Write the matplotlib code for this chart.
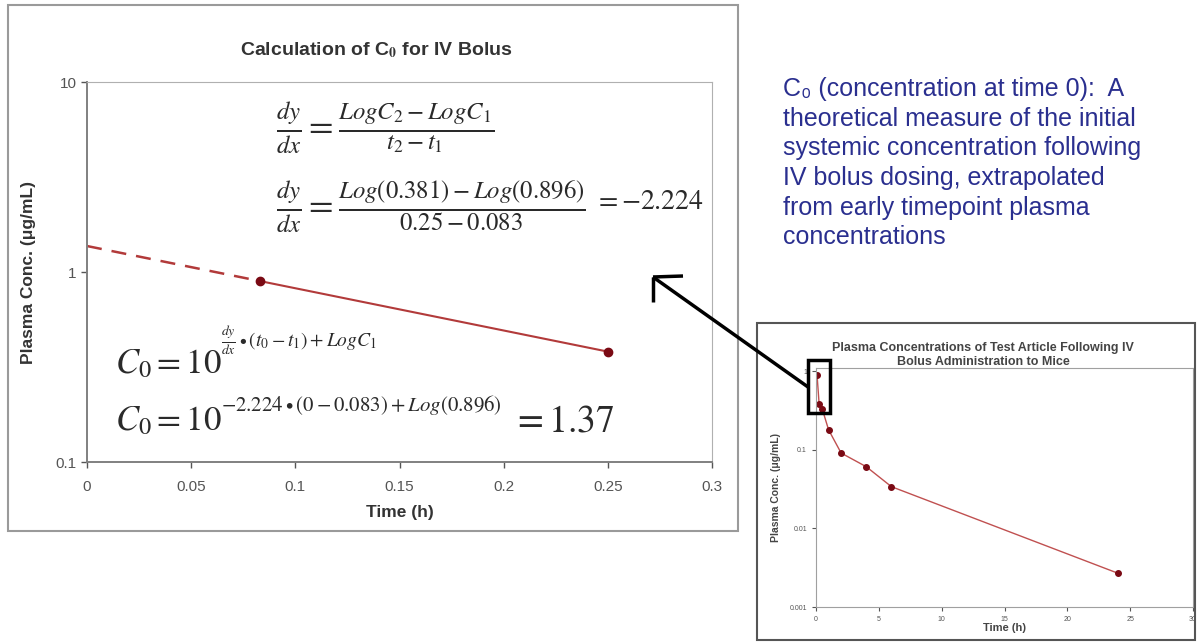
import numpy as np
import matplotlib
matplotlib.use('Agg')
import matplotlib.pyplot as plt
from matplotlib.patches import Rectangle
from matplotlib.lines import Line2D

plt.rcParams['font.family'] = ['Liberation Sans', 'DejaVu Sans']
plt.rcParams['mathtext.fontset'] = 'stix'

# main chart: two early timepoints and the extrapolated C0
t_obs = [0.083, 0.25]
c_obs = [0.896, 0.381]
t_extrap = [0.0, 0.083]
c_extrap = [1.37, 0.896]
main_xticks = [0, 0.05, 0.1, 0.15, 0.2, 0.25, 0.3]
main_xlabels = ['0', '0.05', '0.1', '0.15', '0.2', '0.25', '0.3']
main_yticks = [0.1, 1, 10]
main_ylabels = ['0.1', '1', '10']

# inset: full concentration-time profile
t_full = [0.083, 0.25, 0.5, 1, 2, 4, 6, 24]
c_full = [0.896, 0.381, 0.33, 0.18, 0.091, 0.061, 0.034, 0.0027]
inset_xticks = [0, 5, 10, 15, 20, 25, 30]
inset_yticks = [0.001, 0.01, 0.1, 1]
inset_ylabels = ['0.001', '0.01', '0.1', '1']

W, H = 1200, 642
fig = plt.figure(figsize=(12, 6.42), dpi=100)


def fx(px):
    return px / W


def fy(py):
    return 1 - py / H


def ax_box(l, t, r, b):
    return [fx(l), fy(b), fx(r) - fx(l), fy(t) - fy(b)]


red_line = '#b23a3a'
red_mark = '#7a0a14'
grey = '#9a9a9a'

# outer frames
fig.patches.append(Rectangle((fx(8), fy(531)), fx(738) - fx(8), fy(5) - fy(531),
                             transform=fig.transFigure, fill=False, ec=grey, lw=1.5))
fig.patches.append(Rectangle((fx(757), fy(640)), fx(1195) - fx(757), fy(323) - fy(640),
                             transform=fig.transFigure, fill=False, ec='#555555', lw=1.5))

# main axes
ax = fig.add_axes(ax_box(87, 82, 712, 462))
ax.set_yscale('log')
ax.plot(t_extrap, c_extrap, '--', color=red_line, lw=1.8, dashes=(6, 4))
ax.plot(t_obs, c_obs, '-', color=red_line, lw=1.5)
ax.plot(t_obs, c_obs, 'o', color=red_mark, ms=6)
ax.set_xlim(0, 0.3)
ax.set_ylim(0.1, 10)
ax.set_xticks(main_xticks)
ax.set_xticklabels(main_xlabels)
ax.set_yticks(main_yticks)
ax.set_yticklabels(main_ylabels)
ax.yaxis.set_minor_locator(plt.NullLocator())
ax.tick_params(colors='#555555', labelsize=11, length=4, width=1, direction='out')
ax.tick_params(axis='x', pad=9)
for s in ax.spines.values():
    s.set_color('#b0b0b0')
for s in ['left', 'bottom']:
    ax.spines[s].set_color('#808080')
    ax.spines[s].set_linewidth(1.4)
ax.set_xlabel('Time (h)', fontsize=12.5, fontweight='bold', color='#333333', labelpad=8)
ax.set_ylabel('Plasma Conc. (μg/mL)', fontsize=12.5, fontweight='bold', color='#333333', labelpad=14)

fig.text(fx(376), fy(50), r'Calculation of C$_\mathbf{0}$ for IV Bolus', ha='center', va='center',
         fontsize=14, fontweight='bold', color='#333333')

eq_col = '#2a2a2a'
fig.text(fx(276), fy(128), r'$\frac{dy}{dx} = \frac{LogC_2 - LogC_1}{t_2 - t_1}$',
         ha='left', va='center', fontsize=25.5, color=eq_col)
fig.text(fx(276), fy(207), r'$\frac{dy}{dx} = \frac{Log(0.381) - Log(0.896)}{0.25 - 0.083}$',
         ha='left', va='center', fontsize=25.5, color=eq_col)
fig.text(fx(594), fy(202), r'$= -2.224$', ha='left', va='center', fontsize=20, color=eq_col)

# C0 = 10^(...) written as base plus smaller exponent
fig.text(fx(115), fy(364), r'$C_0 = 10$', ha='left', va='center', fontsize=25, color=eq_col)
fig.text(fx(221), fy(340), r'$\frac{dy}{dx}\bullet(t_0 - t_1) + LogC_1$',
         ha='left', va='center', fontsize=14, color=eq_col)
fig.text(fx(115), fy(421), r'$C_0 = 10$', ha='left', va='center', fontsize=25, color=eq_col)
fig.text(fx(221), fy(405), r'$-2.224\bullet(0 - 0.083) + Log(0.896)$',
         ha='left', va='center', fontsize=15, color=eq_col)
fig.text(fx(512), fy(421), r'$= 1.37$', ha='left', va='center', fontsize=27, color=eq_col)

# explanatory text
fig.text(fx(783), fy(77),
         'C\u2080 (concentration at time 0):  A\n'
         'theoretical measure of the initial\n'
         'systemic concentration following\n'
         'IV bolus dosing, extrapolated\n'
         'from early timepoint plasma\n'
         'concentrations',
         ha='left', va='top', fontsize=18, color='#2a2f8f', linespacing=1.3)

# inset axes
ax2 = fig.add_axes(ax_box(816, 368, 1193, 607))
ax2.set_yscale('log')
ax2.plot(t_full, c_full, '-', color='#c05050', lw=1)
ax2.plot(t_full, c_full, 'o', color=red_mark, ms=4)
ax2.set_xlim(0, 30)
ax2.set_ylim(0.001, 1.1)
ax2.set_xticks(inset_xticks)
ax2.set_yticks(inset_yticks)
ax2.set_yticklabels(inset_ylabels)
ax2.yaxis.set_minor_locator(plt.NullLocator())
ax2.tick_params(colors='#555555', labelsize=5, length=3, width=0.8)
for s in ax2.spines.values():
    s.set_color('#a0a0a0')
ax2.set_xlabel('Time (h)', fontsize=8, fontweight='bold', color='#444444', labelpad=0)
ax2.set_ylabel('Plasma Conc. (μg/mL)', fontsize=7.5, fontweight='bold', color='#444444', labelpad=6)
fig.text(fx(983), fy(355), 'Plasma Concentrations of Test Article Following IV\nBolus Administration to Mice',
         ha='center', va='center', fontsize=9, fontweight='bold', color='#444444', linespacing=1.3)

# highlight box and pointer arrow
fig.patches.append(Rectangle((fx(808), fy(413)), fx(830) - fx(808), fy(360) - fy(413),
                             transform=fig.transFigure, fill=False, ec='black', lw=2.5))
for xs, ys in [([653, 808], [277, 387]), ([653, 683], [277, 276]), ([653, 653], [277, 302])]:
    fig.add_artist(Line2D([fx(v) for v in xs], [fy(v) for v in ys], transform=fig.transFigure,
                          color='black', lw=2.5, solid_capstyle='butt'))

fig.savefig('out.png', dpi=100)
